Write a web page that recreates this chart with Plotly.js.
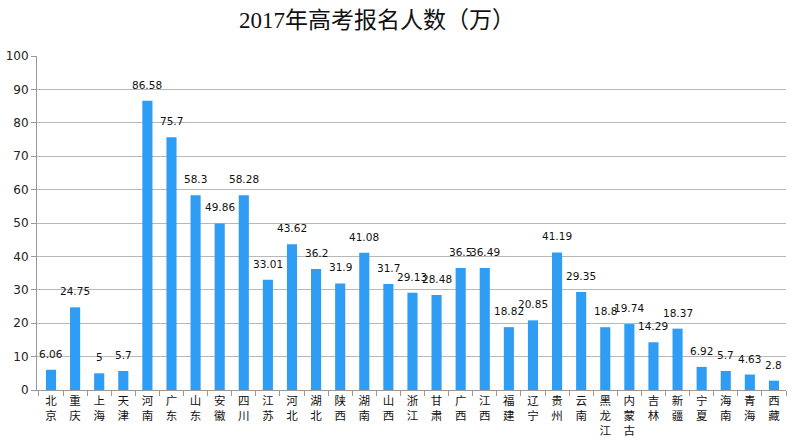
<!DOCTYPE html>
<html><head><meta charset="utf-8">
<script src="https://cdn.plot.ly/plotly-3.0.1.min.js"></script>
<style>body{margin:0;background:#fff}#c{width:792px;height:441px}</style>
</head><body><div id="c"></div>
<script>
const provinces = ["北京","重庆","上海","天津","河南","广东","山东","安徽","四川","江苏","河北","湖北","陕西","湖南","山西","浙江","甘肃","广西","江西","福建","辽宁","贵州","云南","黑龙江","内蒙古","吉林","新疆","宁夏","海南","青海","西藏"];
const applicants = [6.06,24.75,5,5.7,86.58,75.7,58.3,49.86,58.28,33.01,43.62,36.2,31.9,41.08,31.7,29.13,28.48,36.5,36.49,18.82,20.85,41.19,29.35,18.8,19.74,14.29,18.37,6.92,5.7,4.63,2.8];
const yTicks = [0,10,20,30,40,50,60,70,80,90,100];
const titleText = "2017年高考报名人数（万）";

const tickText = provinces.map(p => p.split("").join("<br>"));

const trace = {
  type: "bar",
  x: provinces,
  y: applicants,
  marker: {color: "#2F9DF4"},
  hoverinfo: "none"
};

const valueLabels = provinces.map((p, i) => ({
  x: p, y: applicants[i], xref: "x", yref: "y",
  text: String(applicants[i]), showarrow: false,
  yanchor: "bottom", yshift: 8,
  font: {family: "DejaVu Sans, Verdana, sans-serif", size: 10.5, color: "#111"}
}));

const layout = {
  width: 792, height: 441,
  margin: {l: 37, r: 6, t: 56, b: 51},
  paper_bgcolor: "#fff", plot_bgcolor: "#fff",
  bargap: 0.58,
  showlegend: false,
  annotations: valueLabels,
  title: {text: titleText, x: 0.476, xref: "container", xanchor: "center", y: 0.955, yanchor: "middle",
          font: {family: "Liberation Serif, Noto Sans CJK SC, serif", size: 23, color: "#111"}},
  xaxis: {
    type: "category",
    tickvals: provinces, ticktext: tickText,
    tickson: "boundaries", ticks: "outside", ticklen: 5, tickcolor: "#999",
    showline: true, linecolor: "#999", linewidth: 1,
    showgrid: false, tickangle: 0,
    tickfont: {family: "Noto Sans CJK SC, sans-serif", size: 11.5, color: "#111"},
    fixedrange: true
  },
  yaxis: {
    range: [0, 100], tickvals: yTicks,
    showline: true, linecolor: "#999", linewidth: 1,
    ticks: "outside", ticklen: 5, tickcolor: "#999",
    showgrid: true, gridcolor: "#b8b8b8", gridwidth: 1,
    zeroline: false,
    tickfont: {family: "DejaVu Sans, Verdana, sans-serif", size: 12, color: "#222"},
    fixedrange: true
  }
};

Plotly.newPlot("c", [trace], layout, {displayModeBar: false, staticPlot: true});
</script></body></html>
